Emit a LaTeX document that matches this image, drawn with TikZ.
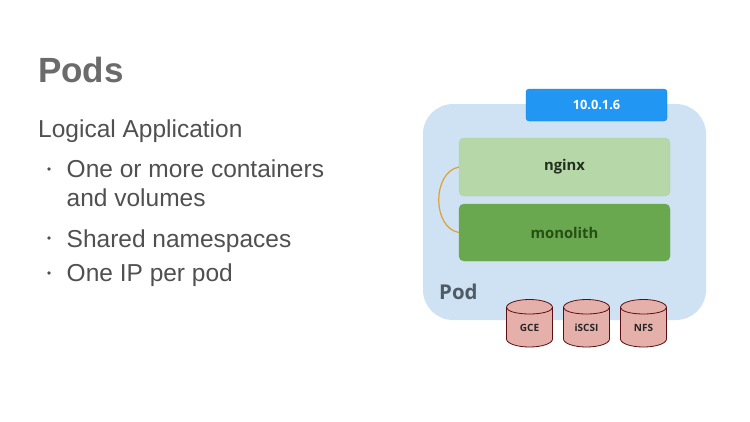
\documentclass[tikz,border=0pt]{standalone}
\usepackage{fontspec}
\setmainfont{Liberation Sans}
\newfontfamily\labelfont{Open Sans}
\definecolor{podfill}{HTML}{CFE2F3}
\definecolor{ipfill}{HTML}{2196F3}
\definecolor{nginxfill}{HTML}{B6D7A8}
\definecolor{monofill}{HTML}{6AA84F}
\definecolor{volfill}{HTML}{E6B0AA}
\definecolor{voledge}{HTML}{5B0F14}
\definecolor{linkcol}{HTML}{E0A030}
\definecolor{titlecol}{HTML}{6B6B6B}
\definecolor{bodycol}{HTML}{505050}
\definecolor{podtext}{HTML}{4F5B66}
\definecolor{nginxtext}{HTML}{24301F}
\definecolor{monotext}{HTML}{274E13}
\tikzset{
  x=1pt,y=-1pt,
  boxfill/.style={rounded corners=5pt,inner sep=0pt,outer sep=0pt,font=\labelfont\bfseries\fontsize{14.8}{17}\selectfont},
  volline/.style={draw=voledge,fill=volfill,line width=0.8pt},
  vollabel/.style={inner sep=0pt,font=\labelfont\bfseries\fontsize{10}{12}\selectfont,text=black!85},
  bodytext/.style={anchor=base west,inner sep=0pt,text=bodycol,font=\fontsize{24.5}{28}\selectfont},
  bullet/.style={circle,fill=bodycol,inner sep=0pt,minimum size=3.6pt}
}
\newcommand{\volshape}[1]{%
  \draw[volline] (#1-23,307.5) -- (#1-23,339)
    arc[start angle=180,end angle=360,x radius=23pt,y radius=8pt]
    -- (#1+23,307.5)
    arc[start angle=0,end angle=180,x radius=23pt,y radius=8pt] -- cycle;
  \draw[draw=voledge,line width=0.8pt] (#1-23,307.5)
    arc[start angle=180,end angle=360,x radius=23pt,y radius=6.5pt];
}
\begin{document}
\begin{tikzpicture}
\useasboundingbox (0,0) rectangle (750,421);
\fill[white] (0,0) rectangle (750,421);
\node[anchor=base west,inner sep=0pt,text=titlecol,font=\bfseries\fontsize{35}{40}\selectfont] (title) at (38,82) {Pods};
\node[bodytext] (sub) at (38,137) {Logical Application};
\node[bullet] (b1) at (49,169) {};
\node[bodytext] (t1) at (66.5,177) {One or more containers};
\node[bodytext] (t1b) at (66.5,206) {and volumes};
\node[bullet] (b2) at (49,238) {};
\node[bodytext] (t2) at (66.5,247) {Shared namespaces};
\node[bullet] (b3) at (49,273) {};
\node[bodytext] (t3) at (66.5,281.5) {One IP per pod};

\node[rounded corners=30pt,fill=podfill,minimum width=283pt,minimum height=216pt,inner sep=0pt,outer sep=0pt] (pod) at (564.5,212) {};
\node[boxfill,fill=ipfill,draw=ipfill!85!black,line width=0.3pt,rounded corners=3pt,minimum width=141pt,minimum height=32pt,text=white,font=\labelfont\bfseries\fontsize{12.8}{15}\selectfont] (ip) at (596.5,105) {10.0.1.6};
\node[boxfill,fill=nginxfill,draw=nginxfill!90!gray,line width=0.4pt,minimum width=211pt,minimum height=58pt,text=nginxtext] (nginx) at (564.5,167) {nginx};
\node[boxfill,fill=monofill,draw=monofill!90!gray,line width=0.4pt,minimum width=211pt,minimum height=57pt,text=monotext] (mono) at (564.5,232.5) {monolith};
\draw[linkcol,line width=1.2pt] (nginx.west) .. controls (432,172) and (432,228) .. (mono.west);
\node[anchor=base west,inner sep=0pt,text=podtext,font=\labelfont\bfseries\fontsize{20.4}{24}\selectfont] (podl) at (439,299) {Pod};
\volshape{529.5}
\volshape{586.5}
\volshape{643.5}
\node[vollabel] at (529.5,327.5) (gcel) {GCE};
\node[vollabel] at (586.5,327.5) (iscsil) {iSCSI};
\node[vollabel] at (643.5,327.5) (nfsl) {NFS};
\end{tikzpicture}
\end{document}
